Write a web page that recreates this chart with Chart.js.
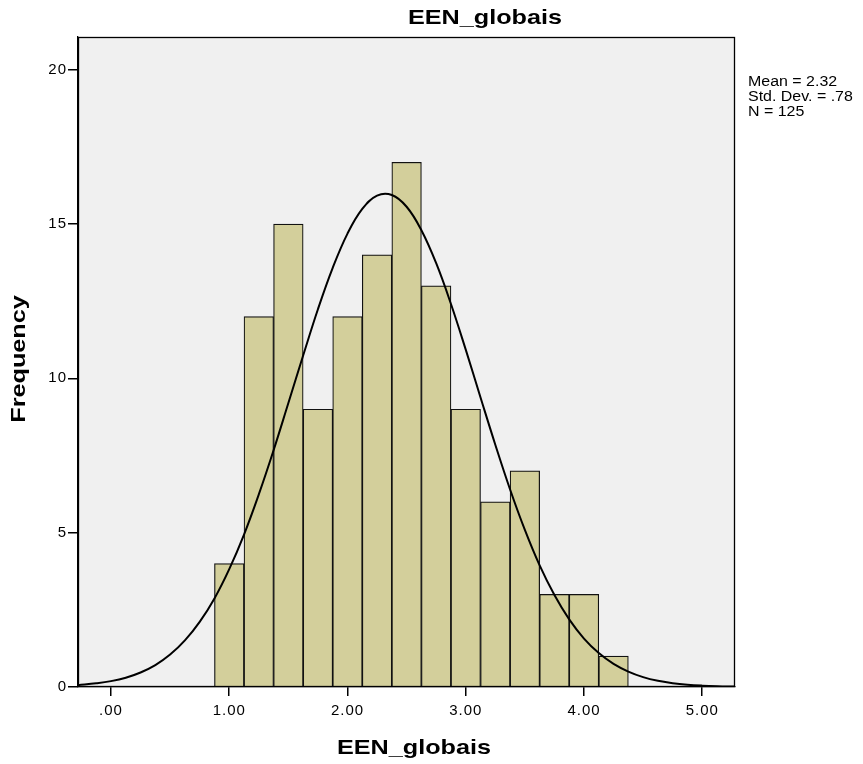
<!DOCTYPE html>
<html>
<head>
<meta charset="utf-8">
<script src="https://cdn.jsdelivr.net/npm/chart.js@4.4.1/dist/chart.umd.min.js"></script>
<style>
  html, body { margin: 0; padding: 0; background: #ffffff; }
  #wrap { width: 863px; height: 764px; }
</style>
</head>
<body>
<div id="wrap"><canvas id="c" width="863" height="764"></canvas></div>
<script>
// ---- data ----
const binCenters = [1.00, 1.25, 1.50, 1.75, 2.00, 2.25, 2.50, 2.75, 3.00, 3.25, 3.50, 3.75, 4.00, 4.25];
const frequencies = [4, 12, 15, 9, 12, 14, 17, 13, 9, 6, 7, 3, 3, 1];
const curveX = [-0.28, -0.125, 0, 0.125, 0.25, 0.375, 0.5, 0.625, 0.75, 0.875, 1.0, 1.125, 1.25, 1.375, 1.5, 1.625, 1.75, 1.875, 2.0, 2.125, 2.25, 2.375, 2.5, 2.625, 2.75, 2.875, 3.0, 3.125, 3.25, 3.375, 3.5, 3.625, 3.75, 3.875, 4.0, 4.125, 4.25, 4.375, 4.5, 4.625, 4.75, 4.875, 5.0, 5.125, 5.28];
const curveY = [0.06, 0.12, 0.19, 0.30, 0.47, 0.71, 1.05, 1.51, 2.11, 2.87, 3.82, 4.94, 6.24, 7.67, 9.20, 10.74, 12.24, 13.58, 14.69, 15.49, 15.92, 15.94, 15.56, 14.80, 13.73, 12.41, 10.93, 9.38, 7.85, 6.40, 5.09, 3.94, 2.98, 2.19, 1.57, 1.10, 0.75, 0.50, 0.32, 0.20, 0.125, 0.075, 0.044, 0.025, 0.012];
const xTicks = [0, 1, 2, 3, 4, 5];
const yTicks = [0, 5, 10, 15, 20];
const chartTitle = 'EEN_globais';
const xTitle = 'EEN_globais';
const yTitle = 'Frequency';
const statsLines = ['Mean = 2.32', 'Std. Dev. = .78', 'N = 125'];

const FONT = '"Liberation Sans", Arial, Helvetica, sans-serif';

function wideText(ctx, text, x, y, sx) {
  ctx.save();
  ctx.translate(x, y);
  ctx.scale(sx, 1);
  ctx.fillText(text, 0, 0);
  ctx.restore();
}

const decoPlugin = {
  id: 'deco',
  beforeDraw(chart) {
    const { ctx, chartArea: a } = chart;
    ctx.save();
    ctx.fillStyle = '#f0f0f0';
    ctx.fillRect(a.left, a.top, a.right - a.left, a.bottom - a.top);
    ctx.restore();
    ctx.letterSpacing = '1px';
  },
  afterDatasetsDraw(chart) {
    const { ctx, chartArea: a } = chart;
    ctx.save();
    ctx.strokeStyle = '#000000';
    ctx.lineWidth = 1.3;
    ctx.strokeRect(a.left + 0.5, a.top + 0.5, a.right - a.left - 1, a.bottom - a.top - 1);
    ctx.restore();
  },
  afterDraw(chart) {
    const { ctx } = chart;
    ctx.save();
    ctx.fillStyle = '#000000';
    ctx.letterSpacing = '0px';
    ctx.font = 'bold 21px ' + FONT;
    ctx.textAlign = 'center';
    ctx.textBaseline = 'alphabetic';
    wideText(ctx, chartTitle, 485, 24, 1.2);
    wideText(ctx, xTitle, 414, 754, 1.2);
    ctx.save();
    ctx.translate(25, 359);
    ctx.rotate(-Math.PI / 2);
    wideText(ctx, yTitle, 0, 0, 1.2);
    ctx.restore();
    ctx.font = '14px ' + FONT;
    ctx.textAlign = 'left';
    statsLines.forEach((t, i) => wideText(ctx, t, 748, 86 + i * 15, 1.14));
    ctx.restore();
  }
};

new Chart(document.getElementById('c'), {
  type: 'bar',
  data: {
    datasets: [
      {
        type: 'line',
        data: curveX.map((x, i) => ({ x: x, y: curveY[i] })),
        borderColor: '#000000',
        borderWidth: 2,
        pointRadius: 0,
        tension: 0.4,
        fill: false,
        order: 0
      },
      {
        type: 'bar',
        data: binCenters.map((x, i) => ({ x: x, y: frequencies[i] })),
        backgroundColor: '#d3cf9b',
        borderColor: '#111111',
        borderWidth: 1.2,
        borderSkipped: 'start',
        barPercentage: 1,
        categoryPercentage: 1,
        grouped: false,
        order: 1
      }
    ]
  },
  options: {
    responsive: false,
    animation: false,
    events: [],
    layout: { padding: { top: 37, right: 128, bottom: 0, left: 0 } },
    plugins: {
      legend: { display: false },
      title: { display: false },
      tooltip: { enabled: false }
    },
    scales: {
      x: {
        type: 'linear',
        min: -0.279,
        max: 5.277,
        offset: false,
        afterBuildTicks(s) { s.ticks = xTicks.map(v => ({ value: v })); },
        afterFit(s) { s.height = 77; },
        grid: { display: true, offset: false, drawOnChartArea: false, drawTicks: true, tickLength: 9, color: '#000000', lineWidth: 1.5 },
        border: { display: true, color: '#000000', width: 1.3 },
        ticks: {
          color: '#000000',
          font: { family: FONT, size: 15 },
          padding: 6,
          maxRotation: 0,
          autoSkip: false,
          callback: v => (v === 0 ? '.00' : v.toFixed(2))
        }
      },
      y: {
        type: 'linear',
        min: 0,
        max: 21.06,
        afterBuildTicks(s) { s.ticks = yTicks.map(v => ({ value: v })); },
        afterFit(s) { s.width = 78; },
        grid: { display: true, drawOnChartArea: false, drawTicks: true, tickLength: 10, color: '#000000', lineWidth: 1.5 },
        border: { display: true, color: '#000000', width: 1.3 },
        ticks: {
          color: '#000000',
          font: { family: FONT, size: 15 },
          padding: 1,
          autoSkip: false,
          callback: v => String(v)
        }
      }
    }
  },
  plugins: [decoPlugin]
});
</script>
</body>
</html>
